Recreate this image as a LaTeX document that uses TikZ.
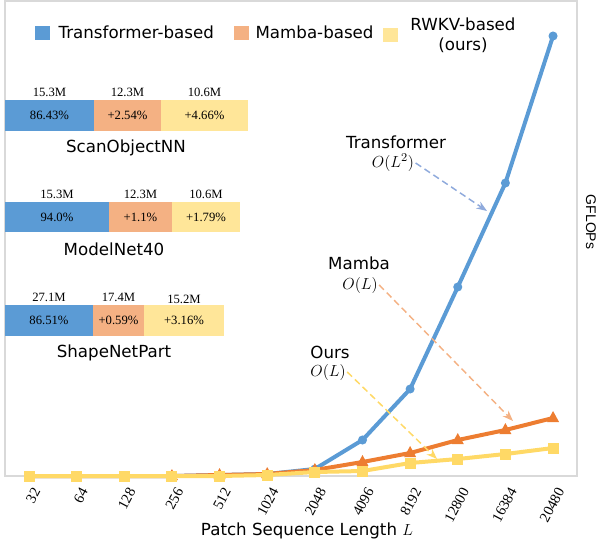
\documentclass[tikz,border=0pt]{standalone}
\usepackage{fontspec}
\setmainfont{Liberation Serif}
\newfontfamily\handfont{DejaVu Sans}
\newfontfamily\axisfont{Liberation Sans}
\usepackage{amsmath}
\usetikzlibrary{arrows.meta,positioning}
\definecolor{tfblue}{HTML}{5B9BD5}
\definecolor{mborange}{HTML}{ED7D31}
\definecolor{mbbar}{HTML}{F4B183}
\definecolor{rwyellow}{HTML}{FFD966}
\definecolor{rwbar}{HTML}{FFE699}
\definecolor{tfarrow}{HTML}{8FAADC}
\definecolor{framegray}{HTML}{D9D9D9}
\tikzset{
  hand/.style={font=\handfont\fontsize{12.5}{15}\selectfont, inner sep=1pt},
  num/.style={font=\fontsize{9.5}{10}\selectfont, inner sep=1pt},
  barbox/.style={font=\fontsize{9.5}{10}\selectfont, inner sep=0pt, outer sep=0pt, anchor=west},
  legbox/.style={minimum width=11.25pt, minimum height=10.5pt, inner sep=0pt},
  ticklbl/.style={font=\fontsize{11}{12}\selectfont, rotate=62, anchor=east, inner sep=0.5pt},
  series/.style={line width=3pt, line join=round, line cap=round},
  hint/.style={dashed, dash pattern=on 5pt off 3pt, line width=1.1pt, -{Stealth[length=8pt,width=6pt]}}
}
\begin{document}
\begin{tikzpicture}[x=0.75pt,y=-0.75pt]
\useasboundingbox (0,0) rectangle (598,546);
\draw[framegray, line width=0.8pt] (5,1) rectangle (577,476);

% legend
\node[legbox, fill=tfblue] (lg1) at (42.5,33) {};
\node[hand, anchor=west] (lt1) at (57,32) {Transformer-based};
\node[legbox, fill=mbbar] (lg2) at (241.5,33) {};
\node[hand, anchor=west] (lt2) at (254,32) {Mamba-based};
\node[legbox, fill=rwbar] (lg3) at (390.5,35) {};
\node[hand, align=center] (lt3) at (463,35) {RWKV-based\\(ours)};

% ScanObjectNN
\node[barbox, fill=tfblue, minimum width=66.75pt, minimum height=23.25pt] (sb1) at (5,115.5) {86.43\%};
\node[barbox, fill=mbbar, minimum width=50.25pt, minimum height=23.25pt, right=0pt of sb1] (sb2) {+2.54\%};
\node[barbox, fill=rwbar, minimum width=65.25pt, minimum height=23.25pt, right=0pt of sb2] (sb3) {+4.66\%};
\node[num, above=1pt of sb1] (sn1) {15.3M};
\node[num, above=1pt of sb2] (sn2) {12.3M};
\node[num, above=1pt of sb3] (sn3) {10.6M};
\node[hand] (sname) at (126,148) {ScanObjectNN};

% ModelNet40
\node[barbox, fill=tfblue, minimum width=78pt, minimum height=22.5pt] (mb1) at (5,217) {94.0\%};
\node[barbox, fill=mbbar, minimum width=47.25pt, minimum height=22.5pt, right=0pt of mb1] (mb2) {+1.1\%};
\node[barbox, fill=rwbar, minimum width=51pt, minimum height=22.5pt, right=0pt of mb2] (mb3) {+1.79\%};
\node[num, above=1pt of mb1] (mn1) {15.3M};
\node[num, above=1pt of mb2] (mn2) {12.3M};
\node[num, above=1pt of mb3] (mn3) {10.6M};
\node[hand] (mname) at (114,249) {ModelNet40};

% ShapeNetPart
\node[barbox, fill=tfblue, minimum width=66pt, minimum height=23.25pt] (pb1) at (5,320.5) {86.51\%};
\node[barbox, fill=mbbar, minimum width=38.25pt, minimum height=23.25pt, right=0pt of pb1] (pb2) {+0.59\%};
\node[barbox, fill=rwbar, minimum width=60pt, minimum height=23.25pt, right=0pt of pb2] (pb3) {+3.16\%};
\node[num, above=1pt of pb1] (pn1) {27.1M};
\node[num, above=1pt of pb2] (pn2) {17.4M};
\node[num, above=0pt of pb3] (pn3) {15.2M};
\node[hand] (pname) at (114,353) {ShapeNetPart};

% data points
\foreach \i/\t/\m/\r in {1/476/476/476, 2/476/476/476, 3/476/476/476, 4/476/476/476,
  5/475/475/476, 6/474/474/475, 7/469/470/472, 8/440/462/471, 9/389/453/463,
  10/287/440/459, 11/183/430/454, 12/36/418/448}{
  \coordinate (t\i) at ({29+47.64*(\i-1)},\t);
  \coordinate (m\i) at ({29+47.64*(\i-1)},\m);
  \coordinate (r\i) at ({29+47.64*(\i-1)},\r);
}
\draw[series, tfblue] (t1) \foreach \i in {2,...,12}{ -- (t\i)};
\foreach \i in {1,...,12} \fill[tfblue] (t\i) circle (3.4pt);
\draw[series, mborange] (m1) \foreach \i in {2,...,12}{ -- (m\i)};
\foreach \i in {4,...,12} \fill[mborange, shift={(m\i)}] (0,-7) -- (6,4) -- (-6,4) -- cycle;
\draw[series, rwyellow] (r1) \foreach \i in {2,...,12}{ -- (r\i)};
\foreach \i in {1,...,12} \fill[rwyellow, shift={(r\i)}] (-5.5,-5.5) rectangle (5.5,5.5);

% x axis
\foreach \i/\lab in {1/32,2/64,3/128,4/256,5/512,6/1024,7/2048,8/4096,9/8192,10/12800,11/16384,12/20480}
  \node[ticklbl] (x\i) at ({29+47.64*(\i-1)+8},488) {\lab};
\node[hand] (xlabel) at (307,531) {Patch Sequence Length $L$};
\node[font=\axisfont\fontsize{10.5}{12}\selectfont, rotate=-90] (ylabel) at (591,222) {GFLOPs};

% complexity hints
\node[hand] (tfname) at (396,142) {Transformer};
\node[hand] (tfo) at (393,163) {$O(L^2)$};
\coordinate (tftip) at (487,211);
\draw[hint, tfarrow] (tfo.east) -- (tftip);
\node[hand] (mbname) at (359,263) {Mamba};
\node[hand] (mbo) at (360,285) {$O(L)$};
\coordinate (mbtip) at (513,421);
\draw[hint, mbbar] (mbo.east) -- (mbtip);
\node[hand] (rwname) at (330,352) {Ours};
\node[hand] (rwo) at (328,372) {$O(L)$};
\coordinate (rwtip) at (437,459);
\draw[hint, rwyellow] (rwo.east) -- (rwtip);
\end{tikzpicture}
\end{document}
